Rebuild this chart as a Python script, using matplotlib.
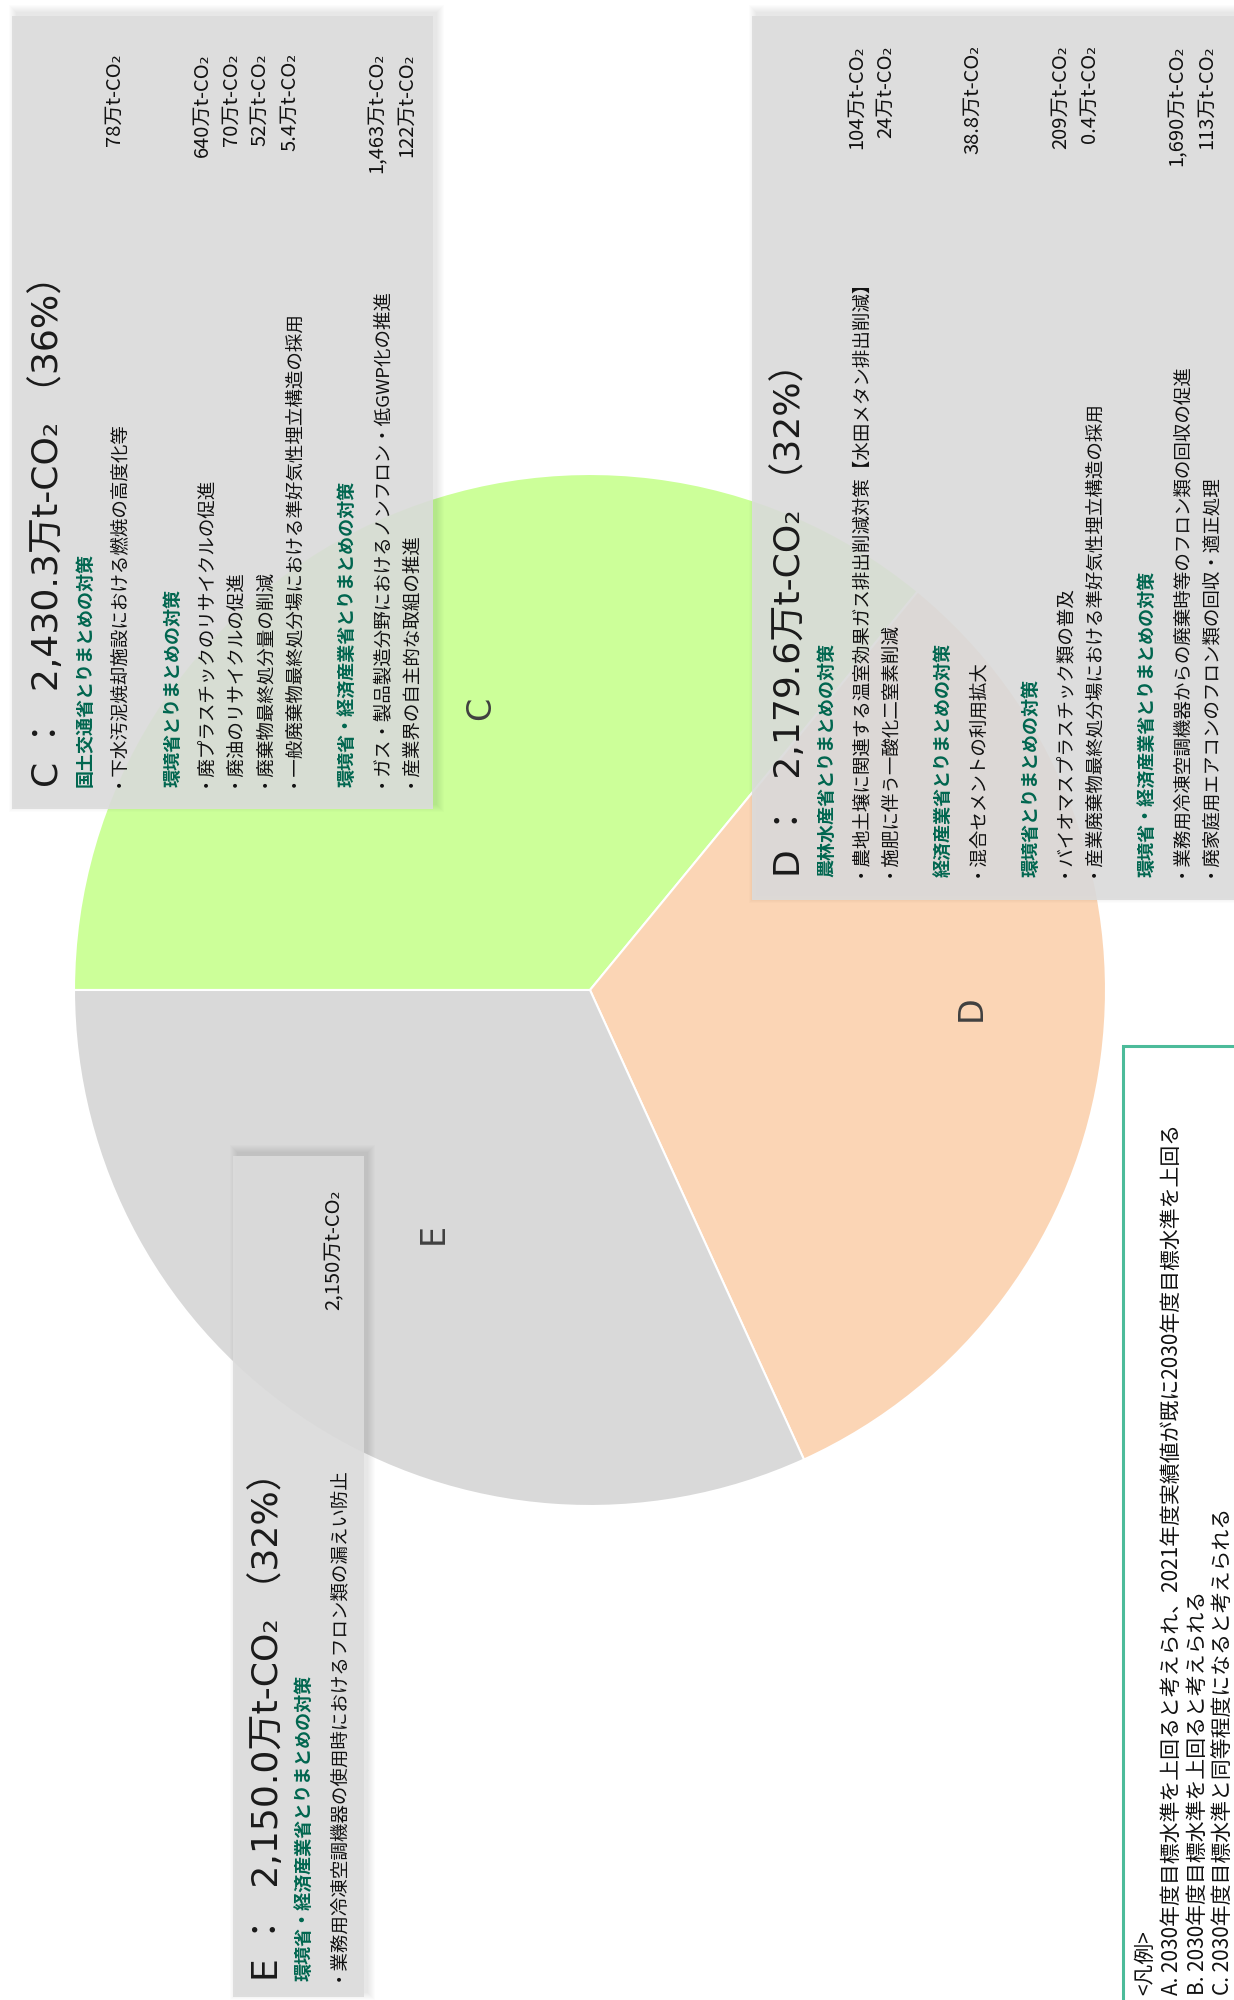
import numpy as np
import matplotlib
matplotlib.use('Agg')
import matplotlib.pyplot as plt
from matplotlib.patches import Rectangle

plt.rcParams['font.family'] = ['Noto Sans CJK JP', 'DejaVu Sans']

# pie data
labels = ['C', 'D', 'E']
values = [2430.3, 2179.6, 2150.0]
shares = ['36%', '32%', '32%']
colors = ['#CCFF99', '#FBD5B5', '#D9D9D9']

# measures per slice: (ministry, [(item, reduction 万t-CO2)])
c_groups = [
    ('国土交通省とりまとめの対策',
     [('・下水汚泥焼却施設における燃焼の高度化等', '78')]),
    ('環境省とりまとめの対策',
     [('・廃プラスチックのリサイクルの促進', '640'),
      ('・廃油のリサイクルの促進', '70'),
      ('・廃棄物最終処分量の削減', '52'),
      ('・一般廃棄物最終処分場における準好気性埋立構造の採用', '5.4')]),
    ('環境省・経済産業省とりまとめの対策',
     [('・ガス・製品製造分野におけるノンフロン・低GWP化の推進', '1,463'),
      ('・産業界の自主的な取組の推進', '122')]),
]
d_groups = [
    ('農林水産省とりまとめの対策',
     [('・農地土壌に関連する温室効果ガス排出削減対策【水田メタン排出削減】', '104'),
      ('・施肥に伴う一酸化二窒素削減', '24')]),
    ('経済産業省とりまとめの対策',
     [('・混合セメントの利用拡大', '38.8')]),
    ('環境省とりまとめの対策',
     [('・バイオマスプラスチック類の普及', '209'),
      ('・産業廃棄物最終処分場における準好気性埋立構造の採用', '0.4')]),
    ('環境省・経済産業省とりまとめの対策',
     [('・業務用冷凍空調機器からの廃棄時等のフロン類の回収の促進', '1,690'),
      ('・廃家庭用エアコンのフロン類の回収・適正処理', '113')]),
]
e_groups = [
    ('環境省・経済産業省とりまとめの対策',
     [('・業務用冷凍空調機器の使用時におけるフロン類の漏えい防止', '2,150')]),
]

legend_lines = [
    '<凡例>',
    'A. 2030年度目標水準を上回ると考えられ、2021年度実績値が既に2030年度目標水準を上回る',
    'B. 2030年度目標水準を上回ると考えられる',
    'C. 2030年度目標水準と同等程度になると考えられる',
]

GREEN = '#00664F'
title_font = ['DejaVu Sans', 'Noto Sans CJK JP']

fig = plt.figure(figsize=(12.34, 20), dpi=100)
ax = fig.add_axes([0, 0, 1, 1])

# whole page is turned 90 deg, so work in pixel coords (y down)
cx, cy, R = 590, 990, 516
wedges, _ = ax.pie(values, colors=colors, startangle=180, counterclock=True,
                   center=(cx, cy), radius=R,
                   wedgeprops=dict(edgecolor='white', linewidth=1.5))
ax.set_xlim(0, 1234)
ax.set_ylim(2000, 0)
ax.set_aspect('equal')
ax.axis('off')

# slice letters (distance from centre, small angle nudge)
label_r = [0.585, 0.74, 0.56]
label_turn = [4, -4.7, 0]
for w, lab, r, t in zip(wedges, labels, label_r, label_turn):
    mid = np.deg2rad((w.theta1 + w.theta2) / 2 + t)
    ax.text(cx + r * R * np.cos(mid), cy + r * R * np.sin(mid), lab,
            rotation=90, ha='center', va='center', fontsize=24,
            color='#404040', family=title_font, zorder=2)


def panel(x0, y0, x1, y1):
    # soft shadow then see-through grey box
    for k in range(8):
        ax.add_patch(Rectangle((x0 + 4 - k, y0 - 4 - k), x1 - x0 + 2 * k,
                               y1 - y0 + 2 * k, color='k', alpha=0.012,
                               lw=0, zorder=3))
    ax.add_patch(Rectangle((x0, y0), x1 - x0, y1 - y0, facecolor='#DCDCDC',
                           alpha=0.9, lw=0, zorder=4))


def block(tx, bottom, vtop, i, groups):
    ax.text(tx, bottom,
            f'{labels[i]} ：  {values[i]:,.1f}万t-CO₂ （{shares[i]}）',
            rotation=90, ha='center', va='bottom', fontsize=26,
            color='#1A1A1A', family=title_font, zorder=5)
    step = 29.2
    x = tx + 37
    for g, (head, items) in enumerate(groups):
        if g:
            x += step
        ax.text(x, bottom, head, rotation=90, ha='center', va='bottom',
                fontsize=13, fontweight='bold', color=GREEN, zorder=5)
        x += step
        for item, val in items:
            ax.text(x, bottom, item, rotation=90, ha='center', va='bottom',
                    fontsize=13.3, color='#111111', zorder=5)
            ax.text(x, vtop, f'{val}万t-CO₂', rotation=90, ha='center',
                    va='top', fontsize=14.5, color='#111111', zorder=5)
            x += step


panel(12, 16, 433, 809)
panel(752, 16, 1240, 900)
panel(233, 1156, 364, 1997)

block(48, 787, 53, 0, c_groups)
block(790, 877, 45, 1, d_groups)
block(268, 1981, 1190, 2, e_groups)

# legend box
ax.add_patch(Rectangle((1123, 1046), 200, 1000, facecolor='white',
                       edgecolor='#4CBB9A', lw=2.2, zorder=4))
for x, line in zip([1145, 1172, 1198, 1223], legend_lines):
    ax.text(x, 1995, line, rotation=90, ha='center', va='bottom',
            fontsize=15, color='#111111', zorder=5)

fig.savefig('out.png', dpi=100)
